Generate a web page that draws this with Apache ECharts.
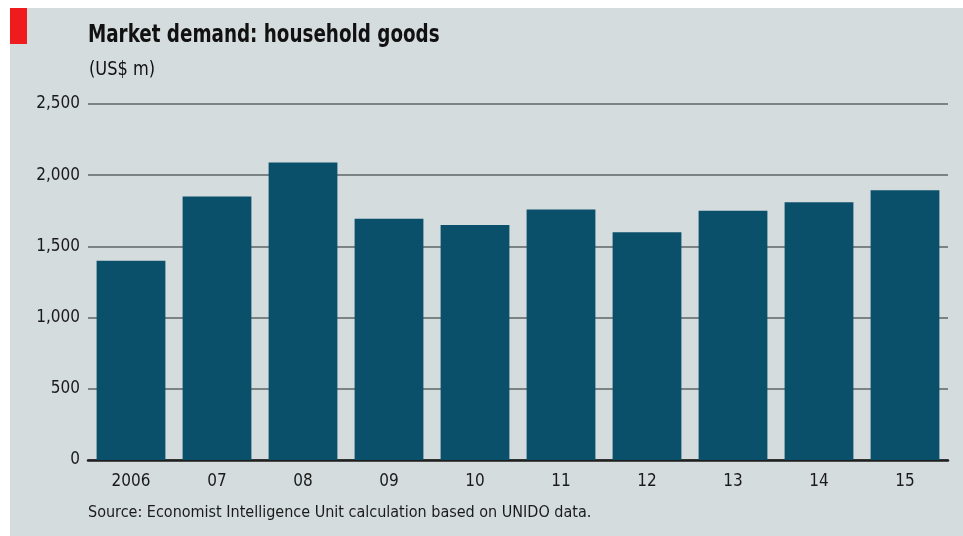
<!DOCTYPE html>
<html>
<head>
<meta charset="utf-8">
<script src="https://cdn.jsdelivr.net/npm/echarts@6/dist/echarts.min.js"></script>
<style>
  html, body { margin: 0; padding: 0; background: #ffffff; }
  #chart { width: 963px; height: 536px; }
</style>
</head>
<body>
<div id="chart"></div>
<script>
// Household goods market demand, US$ m
const years = ['2006', '07', '08', '09', '10', '11', '12', '13', '14', '15'];
const demand = [1400, 1850, 2090, 1695, 1650, 1760, 1600, 1750, 1810, 1895];
const yTicks = [0, 500, 1000, 1500, 2000, 2500];

const titleText = 'Market demand: household goods';
const unitText = '(US$ m)';
const sourceText = 'Source: Economist Intelligence Unit calculation based on UNIDO data.';

const labelFont = '"DejaVu Sans Condensed", "DejaVu Sans", sans-serif';

const chart = echarts.init(document.getElementById('chart'), null, { renderer: 'canvas' });

chart.setOption({
  backgroundColor: '#ffffff',
  animation: false,
  graphic: [
    { type: 'rect', left: 10, top: 8, shape: { width: 953, height: 528 }, style: { fill: '#d4dcde' }, z: -10 },
    { type: 'rect', left: 10, top: 8, shape: { width: 17, height: 36 }, style: { fill: '#ee1c1c' } },
    {
      type: 'text', x: 88, y: 23, scaleX: 0.815, scaleY: 1,
      style: { text: titleText, font: 'bold 25px ' + labelFont, fill: '#111111', textAlign: 'left', textVerticalAlign: 'top' }
    },
    {
      type: 'text', x: 89, y: 60, scaleX: 0.9, scaleY: 1,
      style: { text: unitText, font: '20px ' + labelFont, fill: '#111111', textAlign: 'left', textVerticalAlign: 'top' }
    },
    {
      type: 'text', x: 88, y: 505,
      style: { text: sourceText, font: '16px ' + labelFont, fill: '#1a1a1a', textAlign: 'left', textVerticalAlign: 'top' }
    }
  ],
  grid: { left: 88, right: 15, top: 104, bottom: 76, containLabel: false },
  xAxis: {
    type: 'category',
    data: years,
    axisLine: { show: true, lineStyle: { color: '#1e1e1e', width: 2.5 } },
    axisTick: { show: false },
    axisLabel: { color: '#1a1a1a', fontFamily: labelFont, fontSize: 17, margin: 13 }
  },
  yAxis: {
    type: 'value',
    min: yTicks[0],
    max: yTicks[yTicks.length - 1],
    interval: yTicks[1] - yTicks[0],
    axisLine: { show: false },
    axisTick: { show: false },
    splitLine: { lineStyle: { color: '#7b8383', width: 2 } },
    axisLabel: {
      color: '#1a1a1a', fontFamily: labelFont, fontSize: 17, margin: 8,
      formatter: v => v.toLocaleString('en-US')
    }
  },
  series: [{
    type: 'bar',
    data: demand,
    barCategoryGap: '20%',
    itemStyle: { color: '#0a506a' }
  }]
});
</script>
</body>
</html>
